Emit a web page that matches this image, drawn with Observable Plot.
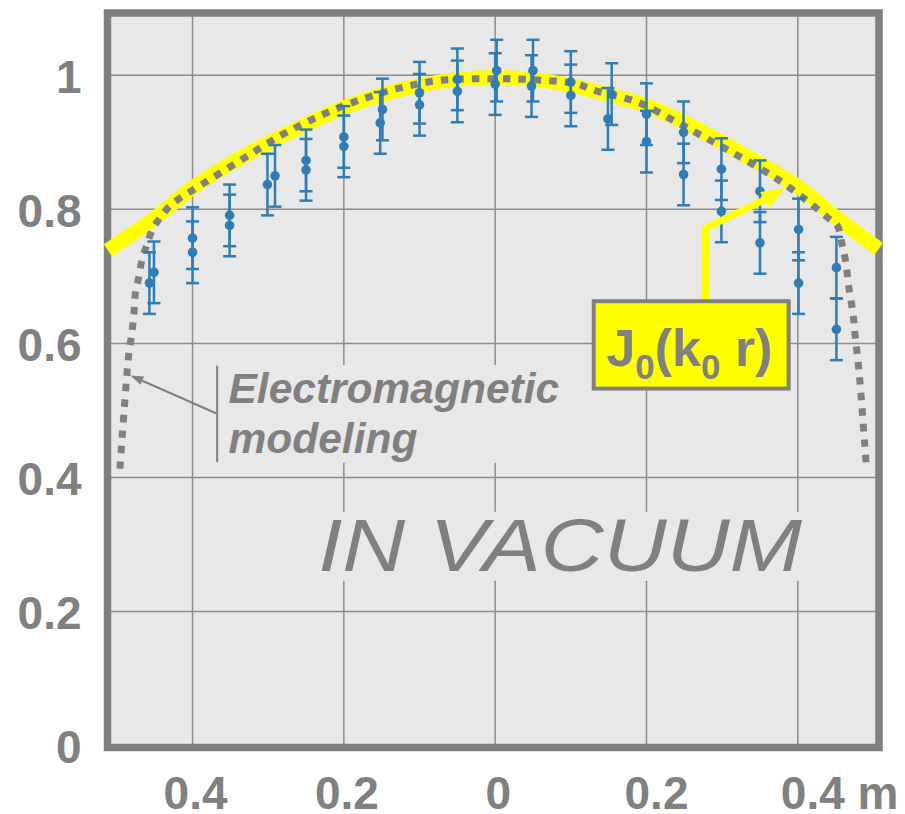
<!DOCTYPE html>
<html>
<head>
<meta charset="utf-8">
<script src="https://cdn.jsdelivr.net/npm/d3@7"></script>
<script src="https://cdn.jsdelivr.net/npm/@observablehq/plot@0.6"></script>
<style>
  html, body { margin: 0; padding: 0; background: #fff; }
  #chart svg { display: block; }
  #chart g[aria-label="y-axis tick label"] text,
  #chart g[aria-label="x-axis tick label"] text { font-weight: bold; }
  #chart text[aria-label="bessel label"] { white-space: pre; }
</style>
</head>
<body>
<div id="chart"></div>
<script>
// Radial position (m, signed across the diameter) and normalised field amplitude
const pointX = [-0.451, -0.457, -0.400, -0.400, -0.351, -0.351, -0.301, -0.291, -0.250, -0.250,
                -0.200, -0.200, -0.149, -0.152, -0.100, -0.100, -0.050, -0.050, 0.002, 0.000,
                 0.050, 0.048, 0.100, 0.100, 0.154, 0.149, 0.200, 0.200, 0.249, 0.249,
                 0.299, 0.299, 0.350, 0.350, 0.401, 0.401, 0.451, 0.451];
const pointY = [0.706, 0.690, 0.757, 0.736, 0.791, 0.776, 0.837, 0.850, 0.873, 0.859,
                0.908, 0.894, 0.949, 0.929, 0.974, 0.956, 0.994, 0.976, 1.007, 0.987,
                1.007, 0.984, 0.990, 0.970, 0.972, 0.935, 0.942, 0.901, 0.915, 0.852,
                0.860, 0.797, 0.827, 0.750, 0.770, 0.690, 0.713, 0.621];
const pointErr = [0.046, 0.046, 0.046, 0.046, 0.046, 0.046, 0.046, 0.046, 0.046, 0.046,
                  0.046, 0.046, 0.046, 0.046, 0.046, 0.046, 0.046, 0.046, 0.046, 0.046,
                  0.046, 0.046, 0.046, 0.046, 0.046, 0.046, 0.046, 0.046, 0.046, 0.046,
                  0.046, 0.046, 0.046, 0.046, 0.046, 0.046, 0.046, 0.046];

// Bessel profile J0(k0 r)
const besselX = [-0.512, -0.45, -0.40, -0.35, -0.30, -0.25, -0.20, -0.15, -0.10, -0.05, 0,
                  0.05, 0.10, 0.15, 0.20, 0.25, 0.30, 0.35, 0.40, 0.45, 0.507];
const besselY = [0.739, 0.787, 0.832, 0.868, 0.899, 0.927, 0.952, 0.971, 0.985, 0.994, 0.997,
                 0.994, 0.985, 0.971, 0.955, 0.930, 0.900, 0.868, 0.834, 0.789, 0.741];

// Electromagnetic model of the field
const modelX = [-0.496, -0.4843, -0.481, -0.4777, -0.4755, -0.471, -0.4666, -0.460, -0.4534, -0.4424,
                -0.429, -0.3893, -0.3366, -0.2837, -0.2308, -0.187, -0.1296, -0.0723, 0, 0.0555,
                 0.108, 0.130, 0.188, 0.232, 0.276, 0.324, 0.373, 0.412, 0.439, 0.452,
                 0.4587, 0.463, 0.4674, 0.473, 0.476, 0.4806, 0.4908];
const modelY = [0.413, 0.584, 0.609, 0.642, 0.675, 0.699, 0.726, 0.748, 0.769, 0.788,
                0.806, 0.836, 0.873, 0.910, 0.940, 0.960, 0.980, 0.9925, 0.995, 0.993,
                0.987, 0.978, 0.960, 0.935, 0.908, 0.878, 0.845, 0.813, 0.788, 0.776,
                0.746, 0.724, 0.684, 0.644, 0.609, 0.562, 0.413];

// Axis ticks and their labels
const xTicks = [-0.4, -0.2, 0, 0.2, 0.4];
const xTickLabels = ["0.4", "0.2", "0", "0.2", "0.4 m"];
const yTicks = [0, 0.2, 0.4, 0.6, 0.8, 1];
const yTickLabels = ["0", "0.2", "0.4", "0.6", "0.8", "1"];

// Annotation texts
const modelLabel = "Electromagnetic\nmodeling";
const mediumLabel = "IN VACUUM";
const besselParts = [
  {text: "J", sub: false}, {text: "0", sub: true}, {text: "(", sub: false},
  {text: "k", sub: false}, {text: "0", sub: true}, {text: " r)", sub: false}
];

const grey = "#808080";
const gridGrey = "#8c8c8c";
const panel = "#e8e8e8";
const blue = "#2f7cb6";
const yellow = "#ffff00";

const points = pointX.map((x, i) => ({x, y: pointY[i], lo: pointY[i] - pointErr[i], hi: pointY[i] + pointErr[i]}));
const bessel = besselX.map((x, i) => ({x, y: besselY[i]}));
const model = modelX.map((x, i) => ({x, y: modelY[i]}));

// horizontal cap for the error bars
const capSymbol = {draw(ctx, size) { const w = Math.sqrt(size / Math.PI); ctx.moveTo(-w, 0); ctx.lineTo(w, 0); }};
// filled arrow head, pointing up before rotation, base centred on the origin
const headSymbol = (len, wid) => ({draw(ctx) { ctx.moveTo(0, -len); ctx.lineTo(wid / 2, 0); ctx.lineTo(-wid / 2, 0); ctx.closePath(); }});

const xLabel = d => xTickLabels[xTicks.indexOf(d)];
const yLabel = d => yTickLabels[yTicks.indexOf(d)];
const one = [0];

const chart = Plot.plot({
  width: 905,
  height: 814,
  marginLeft: 107,
  marginRight: 26.5,
  marginTop: 12.5,
  marginBottom: 67,
  x: {domain: [-0.5124, 0.5073]},
  y: {domain: [-0.003, 1.093]},
  style: {fontFamily: "'Liberation Sans', Arial, Helvetica, sans-serif", color: grey, background: "white", overflow: "visible"},
  marks: [
    Plot.frame({fill: panel}),
    Plot.gridX(xTicks, {stroke: gridGrey, strokeOpacity: 1, strokeWidth: 1.5}),
    Plot.gridY(yTicks.filter(d => d > 0), {stroke: gridGrey, strokeOpacity: 1, strokeWidth: 1.5}),

    // text backgrounds hide the grid behind the annotations
    Plot.rect(one, {x1: -0.366, x2: 0.093, y1: 0.421, y2: 0.567, fill: panel}),
    Plot.rect(one, {x1: -0.241, x2: 0.42, y1: 0.245, y2: 0.348, fill: panel}),

    Plot.frame({stroke: grey, strokeWidth: 7.5}),

    Plot.line(bessel, {x: "x", y: "y", stroke: yellow, strokeWidth: 14.5, strokeLinecap: "butt", curve: "catmull-rom"}),
    Plot.line(model, {x: "x", y: "y", stroke: grey, strokeWidth: 7, strokeDasharray: "7.5 8", strokeLinecap: "butt", curve: "catmull-rom"}),

    Plot.ruleX(points, {x: "x", y1: "lo", y2: "hi", stroke: blue, strokeWidth: 2.5}),
    Plot.dot(points, {x: "x", y: "lo", symbol: capSymbol, r: 6.5, stroke: blue, strokeWidth: 2.5, fill: "none"}),
    Plot.dot(points, {x: "x", y: "hi", symbol: capSymbol, r: 6.5, stroke: blue, strokeWidth: 2.5, fill: "none"}),
    Plot.dot(points, {x: "x", y: "y", r: 4.8, fill: blue, stroke: "none"}),

    // model annotation
    Plot.ruleX(one, {x: -0.3675, y1: 0.422, y2: 0.566, stroke: grey, strokeWidth: 2}),
    Plot.link(one, {x1: -0.3675, y1: 0.495, x2: -0.4664, y2: 0.5443, stroke: grey, strokeWidth: 2}),
    Plot.dot(one, {x: -0.4664, y: 0.5443, symbol: headSymbol(13, 9), rotate: -66, fill: grey, stroke: "none", r: 5}),
    Plot.text([modelLabel], {x: -0.3525, y: 0.436, text: d => d, textAnchor: "start", lineAnchor: "bottom", lineHeight: 1.19,
      fontSize: 42.5, fontWeight: "bold", fontStyle: "italic", fill: grey}),

    Plot.text([mediumLabel], {x: -0.234, y: 0.26, text: d => d, textAnchor: "start", lineAnchor: "bottom",
      fontSize: 74, fontStyle: "italic", fill: grey, ariaLabel: () => "vacuum"}),

    // call-out pointing at the Bessel curve
    Plot.line([[0.278, 0.66], [0.278, 0.772], [0.356, 0.814]], {x: d => d[0], y: d => d[1], stroke: yellow, strokeWidth: 7,
      strokeLinejoin: "miter", strokeLinecap: "butt"}),
    Plot.dot(one, {x: 0.356, y: 0.814, symbol: headSymbol(24, 18), rotate: 61, fill: yellow, stroke: "none", r: 5}),
    Plot.rect(one, {x1: 0.1309, x2: 0.3886, y1: 0.5318, y2: 0.6622, fill: yellow, stroke: grey, strokeWidth: 4}),
    Plot.text(["J0(k0 r)"], {x: 0.147, y: 0.567, text: d => d, textAnchor: "start", lineAnchor: "bottom",
      fontSize: 52, fontWeight: "bold", fill: grey, ariaLabel: () => "bessel label"}),

    Plot.axisY(yTicks, {tickSize: 0, tickPadding: 26, dy: 3, tickFormat: yLabel, fontSize: 46, fontWeight: "bold", label: null}),
    Plot.axisX(xTicks.slice(0, 3), {tickSize: 0, tickPadding: 29, dx: 3, tickFormat: xLabel, fontSize: 46, fontWeight: "bold", label: null}),
    Plot.axisX([xTicks[3]], {tickSize: 0, tickPadding: 29, dx: 10, tickFormat: xLabel, fontSize: 46, fontWeight: "bold", label: null}),
    Plot.axisX([xTicks[4]], {tickSize: 0, tickPadding: 29, dx: -17, textAnchor: "start", tickFormat: xLabel, fontSize: 46, fontWeight: "bold", label: null})
  ]
});

// wide-set lettering for the medium label
d3.select(chart).select('text[aria-label="vacuum"]')
  .attr("textLength", 484)
  .attr("lengthAdjust", "spacingAndGlyphs");

// subscripts in the J0(k0 r) label
const label = d3.select(chart).select('text[aria-label="bessel label"]');
label.text(null);
let shifted = false;
for (const part of besselParts) {
  const span = label.append("tspan").text(part.text);
  if (part.sub) {
    span.attr("font-size", 35);
    if (!shifted) span.attr("dy", 13);
    shifted = true;
  } else if (shifted) {
    span.attr("dy", -13);
    shifted = false;
  }
}

document.getElementById("chart").append(chart);
</script>
</body>
</html>
